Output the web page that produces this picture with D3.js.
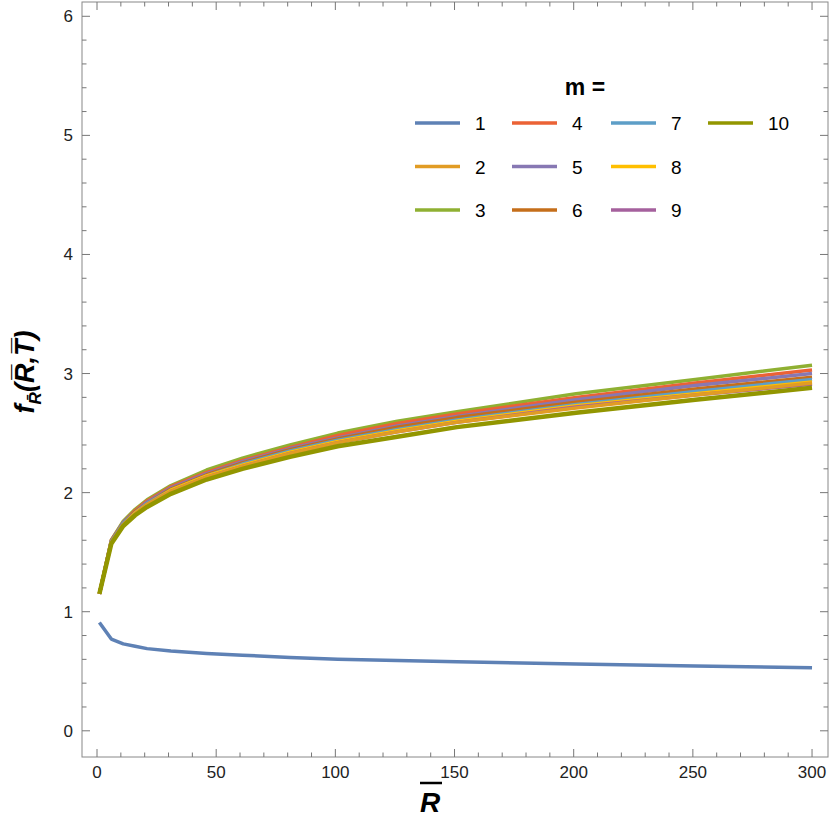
<!DOCTYPE html><html><head><meta charset="utf-8"><script src="https://cdn.jsdelivr.net/npm/d3@7"></script>
<style>body{margin:0;background:#fff}text{font-family:"Liberation Sans",Arial,sans-serif}</style></head><body><svg id="c" width="830" height="830"></svg>
<script>
const R=[1,6,11,16,21,31,46,61,81,101,126,151,201,251,300];
const m1=[0.91,0.77,0.73,0.71,0.69,0.67,0.65,0.635,0.615,0.60,0.59,0.58,0.56,0.545,0.53];
const m2=[1.15,1.58,1.73,1.82,1.90,2.01,2.13,2.22,2.33,2.42,2.51,2.59,2.71,2.82,2.92];
const m3=[1.15,1.60,1.76,1.86,1.94,2.06,2.19,2.29,2.40,2.50,2.60,2.68,2.83,2.95,3.07];
const m4=[1.15,1.60,1.75,1.85,1.93,2.05,2.17,2.27,2.38,2.48,2.58,2.66,2.80,2.92,3.03];
const m5=[1.15,1.59,1.75,1.84,1.92,2.04,2.16,2.26,2.37,2.46,2.56,2.64,2.78,2.90,3.00];
const m6=[1.15,1.59,1.74,1.84,1.91,2.03,2.15,2.25,2.36,2.45,2.55,2.63,2.76,2.87,2.97];
const m7=[1.15,1.59,1.74,1.83,1.91,2.02,2.14,2.24,2.35,2.44,2.53,2.61,2.74,2.85,2.95];
const m8=[1.15,1.58,1.73,1.83,1.90,2.02,2.14,2.23,2.34,2.43,2.52,2.60,2.73,2.83,2.93];
const m9=[1.15,1.58,1.73,1.82,1.90,2.01,2.13,2.22,2.33,2.42,2.51,2.59,2.72,2.82,2.91];
const m10=[1.15,1.57,1.72,1.81,1.88,1.99,2.11,2.20,2.30,2.39,2.47,2.55,2.67,2.78,2.88];
const series=[m1,m2,m3,m4,m5,m6,m7,m8,m9,m10];
const labels=["1","2","3","4","5","6","7","8","9","10"];
const colors=["#5e81b5","#e19c24","#8fb032","#eb6235","#8778b3","#c56e1a","#5d9ec7","#ffbf00","#a5609d","#929600"];
const xTicks=[0,50,100,150,200,250,300], yTicks=[0,1,2,3,4,5,6];
const svg=d3.select("#c");
const L=82,Rt=828,T=2,B=757;
const x=d3.scaleLinear().domain([-6.3,306.7]).range([L,Rt]);
const y=d3.scaleLinear().domain([-0.22,6.12]).range([B,T]);
const g=svg.append("g");
g.append("rect").attr("x",L).attr("y",T).attr("width",Rt-L).attr("height",B-T).attr("fill","none").attr("stroke","#888").attr("stroke-width",1);
d3.range(0,301,10).forEach(v=>{const maj=v%50===0,len=maj?8:4.5;
 [[B,-1],[T,1]].forEach(([yy,s])=>g.append("line").attr("x1",x(v)).attr("x2",x(v)).attr("y1",yy).attr("y2",yy+s*len).attr("stroke","#777"));});
d3.range(0,6.01,0.2).forEach(v=>{const maj=Math.abs(v-Math.round(v))<1e-6,len=maj?8:4.5;
 [[L,1],[Rt,-1]].forEach(([xx,s])=>g.append("line").attr("y1",y(v)).attr("y2",y(v)).attr("x1",xx).attr("x2",xx+s*len).attr("stroke","#777"));});
xTicks.forEach(v=>g.append("text").attr("x",x(v)).attr("y",B+21).attr("text-anchor","middle").attr("font-size",17).attr("fill","#222").text(v));
yTicks.forEach(v=>g.append("text").attr("x",L-9).attr("y",y(v)+6).attr("text-anchor","end").attr("font-size",17).attr("fill","#222").text(v));
const line=d3.line().x((d,i)=>x(R[i])).y(d=>y(d));
const order=[0,2,3,4,5,6,7,8,1,9];
order.forEach(i=>g.append("path").attr("d",line(series[i])).attr("fill","none").attr("stroke",colors[i]).attr("stroke-width",i===9?4.5:3.5).attr("stroke-linejoin","round"));
g.append("text").attr("x",585).attr("y",95).attr("text-anchor","middle").attr("font-size",23).attr("font-weight","bold").text("m =");
const cx=[415,512,611,708];
series.forEach((s,i)=>{const c=Math.floor(i/3),r=i%3;const yy=123+r*43.5;
 g.append("line").attr("x1",cx[c]).attr("x2",cx[c]+45).attr("y1",yy).attr("y2",yy).attr("stroke",colors[i]).attr("stroke-width",3.5);
 g.append("text").attr("x",cx[c]+60).attr("y",yy+7).attr("font-size",19).text(labels[i]);});
g.append("text").attr("x",430).attr("y",812).attr("text-anchor","middle").attr("font-size",28).attr("font-weight","bold").attr("font-style","italic").text("R");
g.append("line").attr("x1",420).attr("x2",442).attr("y1",783).attr("y2",783).attr("stroke","#000").attr("stroke-width",2.5);
const yl=g.append("text").attr("transform","translate(34,372) rotate(-90)").attr("text-anchor","middle").attr("font-size",27).attr("font-weight","bold").attr("font-style","italic");
yl.append("tspan").text("f");
yl.append("tspan").attr("font-size",17).attr("dy",7).text("R\u0304");
yl.append("tspan").attr("dy",-7).text("(R\u0305,T\u0305)");
</script></body></html>
